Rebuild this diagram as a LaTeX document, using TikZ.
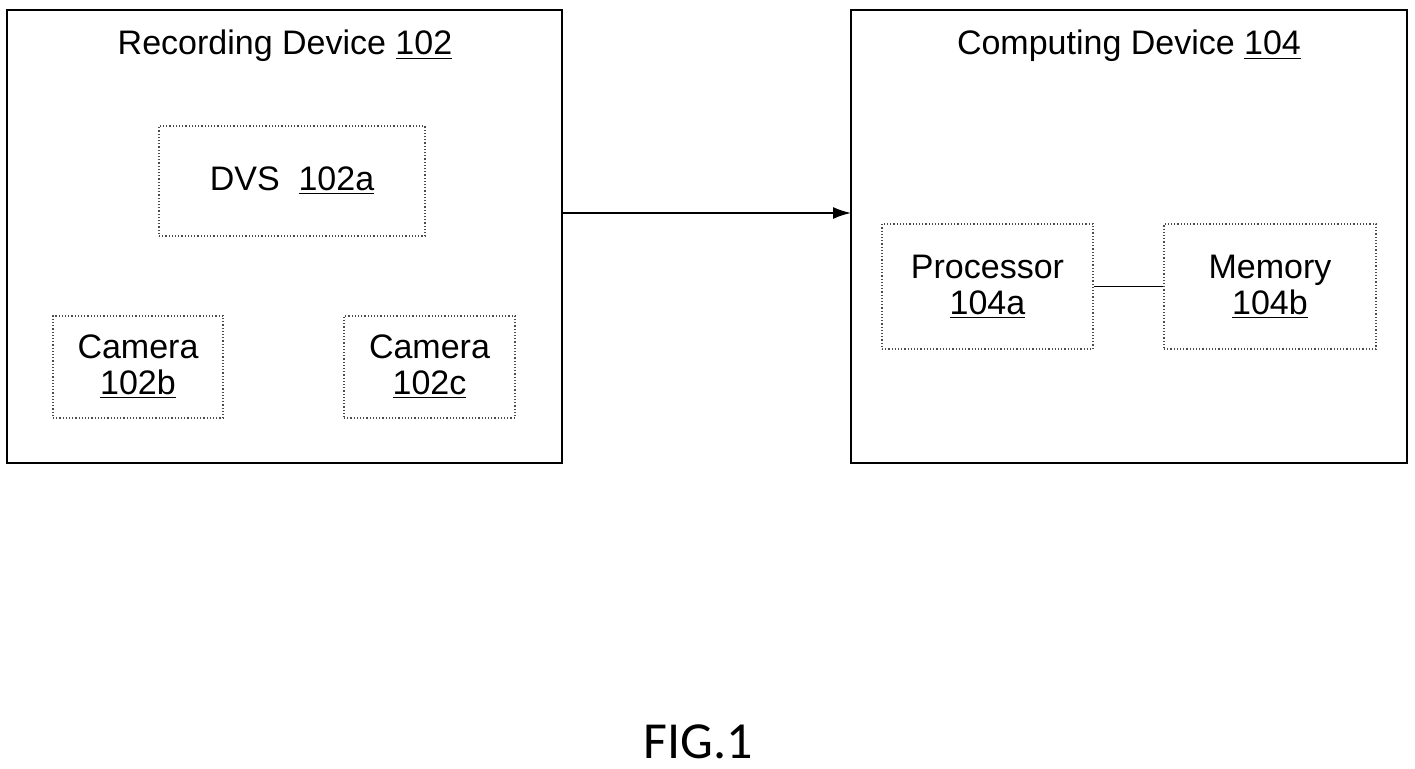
\documentclass[tikz,border=0pt]{standalone}
\usepackage{fontspec}
\setmainfont{Liberation Sans}
\newfontfamily\figfont{Carlito}
\usetikzlibrary{arrows.meta}
\begin{document}
\begin{tikzpicture}[x=0.5pt,y=-0.5pt,
  outer/.style={draw=black,line width=0.8pt},
  inner/.style={draw=black!70,line width=0.6pt,densely dotted},
  lab/.style={font=\fontsize{17}{20}\selectfont,align=center}]
\useasboundingbox (0,0) rectangle (1415,769);
\draw[outer] (7,10) rectangle (562,463);
\draw[outer] (851,10) rectangle (1407,463);
\node[lab] (t1) at (285,46) {Recording Device \underline{102}};
\node[lab] (t2) at (1129,46) {Computing Device \underline{104}};
\node[inner,minimum width=133pt,minimum height=55pt] (dvs) at (292,181) {};
\node[lab] at (dvs) {DVS\ \ \underline{102a}};
\node[inner,minimum width=85pt,minimum height=51pt] (cb) at (138,367) {};
\node[lab] at (cb) {Camera\\[-2pt]\underline{102b}};
\node[inner,minimum width=85.5pt,minimum height=51pt] (cc) at (429.5,367) {};
\node[lab] at (cc) {Camera\\[-2pt]\underline{102c}};
\node[inner,minimum width=105.5pt,minimum height=62.5pt] (p) at (987.5,286.5) {};
\node[lab] at (p) {Processor\\[-2pt]\underline{104a}};
\node[inner,minimum width=106pt,minimum height=62.5pt] (m) at (1270,286.5) {};
\node[lab] at (m) {Memory\\[-2pt]\underline{104b}};
\coordinate (a1) at (562,213);
\coordinate (a2) at (851,213);
\draw[line width=0.8pt,-{Latex[length=9pt,width=6pt]}] (a1) -- (a2);
\draw[line width=0.7pt] (p.east) -- (m.west);
\node[font=\figfont\fontsize{26}{30}\selectfont] (fig) at (698,742) {FIG.1};
\end{tikzpicture}
\end{document}
